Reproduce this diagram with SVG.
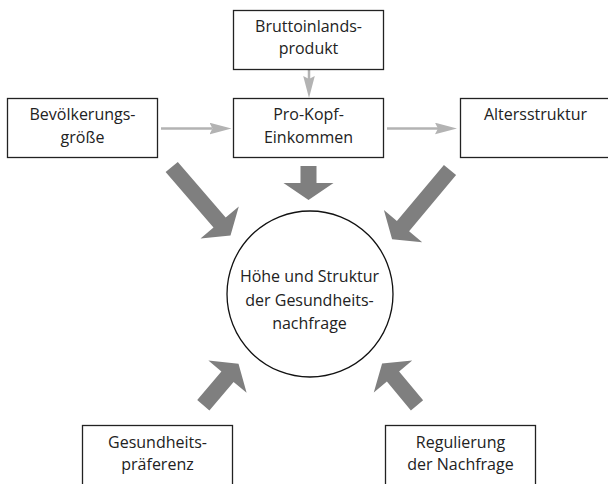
<svg xmlns="http://www.w3.org/2000/svg" width="608" height="484" viewBox="0 0 608 484">
<style>
.box{fill:#fff;stroke:#222;stroke-width:1.3}
.t{font-family:"Open Sans","Liberation Sans",sans-serif;font-size:16px;fill:#222;text-anchor:middle}
.thin{fill:none;stroke:#b3b3b3;stroke-width:2.5;marker-end:url(#ah)}
.big{fill:#7f7f7f}
</style>
<defs>
<marker id="ah" markerUnits="userSpaceOnUse" viewBox="0 -6 23 12" refX="3" refY="0" markerWidth="23" markerHeight="12" orient="auto">
<path d="M0,-5.8 L22,0 L0,5.8 L3,0 Z" fill="#b3b3b3"/>
</marker>
</defs>
<rect width="608" height="484" fill="#fff"/>
<g id="connectors">
<path class="thin" d="M309,69.5 V79"/>
<path class="thin" d="M161,128.5 H212.5"/>
<path class="thin" d="M387,128.5 H438"/>
<polygon class="big" points="177.8,161.9 225.7,217.4 238.8,206.4 230.5,235.5 200.5,238.6 213.5,227.6 165.6,172.1"/>
<polygon class="big" points="300.5,166 316.5,166 316.5,183 333.5,183 308.5,200 283.5,183 300.5,183"/>
<polygon class="big" points="443.9,164.9 396.9,221.1 383.9,210.1 392.1,239.2 422.2,242.3 409.1,231.3 456.1,175.1"/>
<polygon class="big" points="197.2,400.1 221.4,371.5 208.4,360.6 238.5,363.7 246.6,392.8 233.6,381.9 209.4,410.5"/>
<polygon class="big" points="423.1,400.2 399.1,371.4 412.2,360.5 382.1,363.4 373.8,392.5 386.9,381.6 410.9,410.4"/>
</g>
<g id="bip">
<rect class="box" x="233.5" y="10.5" width="150" height="59"/>
<text class="t" x="308.5" y="31.5">Bruttoinlands-</text>
<text class="t" x="308.5" y="54">produkt</text>
</g>
<g id="bev">
<rect class="box" x="7.5" y="98.5" width="150" height="59"/>
<text class="t" x="82.5" y="119.5">Bevölkerungs-</text>
<text class="t" x="82.5" y="142.5">größe</text>
</g>
<g id="pke">
<rect class="box" x="233.5" y="98.5" width="150" height="59"/>
<text class="t" x="308.5" y="119.5">Pro-Kopf-</text>
<text class="t" x="308.5" y="142.5">Einkommen</text>
</g>
<g id="alt">
<rect class="box" x="460.5" y="98.5" width="152" height="59"/>
<text class="t" x="535.5" y="119.5">Altersstruktur</text>
</g>
<g id="nachfrage">
<circle cx="310" cy="294" r="83" fill="#fff" stroke="#111" stroke-width="1.3"/>
<text class="t" x="309.5" y="282">Höhe und Struktur</text>
<text class="t" x="309.5" y="305.5">der Gesundheits-</text>
<text class="t" x="309.5" y="329">nachfrage</text>
</g>
<g id="praef">
<rect class="box" x="82.5" y="425.5" width="150" height="70"/>
<text class="t" x="157.5" y="447.5">Gesundheits-</text>
<text class="t" x="157.5" y="470">präferenz</text>
</g>
<g id="reg">
<rect class="box" x="385.5" y="425.5" width="150" height="70"/>
<text class="t" x="460.5" y="448">Regulierung</text>
<text class="t" x="460.5" y="470">der Nachfrage</text>
</g>
</svg>
